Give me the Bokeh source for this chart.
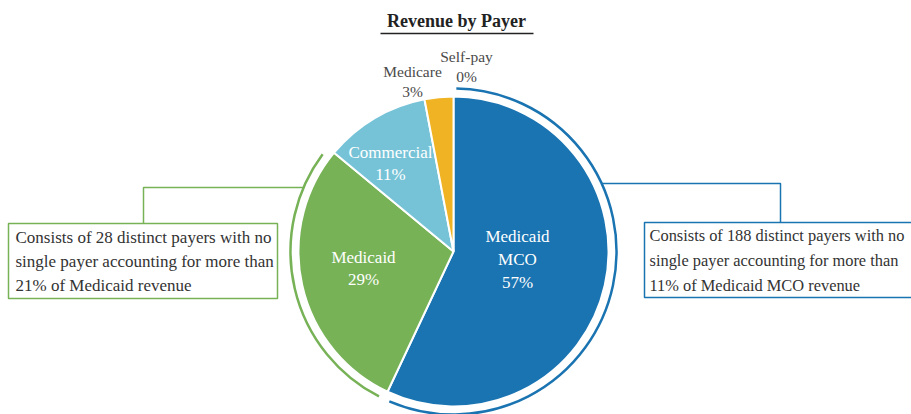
import math
from bokeh.plotting import figure
from bokeh.models import Range1d, ColumnDataSource
from bokeh.core.properties import value
from bokeh.embed import file_html
from bokeh.resources import INLINE

# ---- data ----
payers = ["Medicaid MCO", "Medicaid", "Commercial", "Medicare", "Self-pay"]
label_names = ["Medicaid\nMCO", "Medicaid", "Commercial", "Medicare", "Self-pay"]
shares = [57, 29, 11, 3, 0]
colors = ["#1a74b1", "#77b257", "#76c3d7", "#f0b323", "#9e9e9e"]
title_text = "Revenue by Payer"
note_medicaid = "Consists of 28 distinct payers with no\nsingle payer accounting for more than\n21% of Medicaid revenue"
note_mco = "Consists of 188 distinct payers with no\nsingle payer accounting for more than\n11% of Medicaid MCO revenue"

W, H = 911, 414
SERIF = value("Liberation Serif")

def Y(py):
    return H - py

p = figure(width=W, height=H, output_backend="svg", toolbar_location=None,
           x_range=Range1d(0, W), y_range=Range1d(0, H),
           x_axis_type=None, y_axis_type=None, min_border=0)
p.grid.visible = False
p.outline_line_color = None
p.background_fill_color = "white"
p.border_fill_color = "white"

cx, cy, R = 453, Y(251), 155

# wedge angles, clockwise from 12 o'clock
total = sum(shares)
starts, ends = [], []
a = 90.0
for s in shares:
    sweep = s / total * 360.0
    ends.append(a)
    starts.append(a - sweep)
    a -= sweep

rad = math.radians
nz = [i for i, s in enumerate(shares) if s > 0]
src_nz = ColumnDataSource(dict(start=[rad(starts[i]) for i in nz],
                               end=[rad(ends[i]) for i in nz],
                               color=[colors[i] for i in nz]))
p.wedge(x=cx, y=cy, radius=R, start_angle="start", end_angle="end",
        fill_color="color", line_color="white", line_width=2, source=src_nz)

# bracket arcs around Medicaid MCO and Medicaid
RA = 163
inset = 2.0
p.arc(x=cx, y=cy, radius=RA, start_angle=rad(starts[0] + inset), end_angle=rad(ends[0] - 1.0),
      line_color=colors[0], line_width=2.5)
p.arc(x=cx, y=cy, radius=RA, start_angle=rad(starts[1] + 360 + inset + 1),
      end_angle=rad(ends[1] + 360 - inset), line_color=colors[1], line_width=2.5)

# connector lines
yb = Y(183)
xb = cx + math.sqrt(RA**2 - (yb - cy)**2)
p.line(x=[xb, 780, 780], y=[yb, yb, Y(222)], line_color=colors[0], line_width=1.5)
yg = Y(187)
xg = cx - math.sqrt(RA**2 - (yg - cy)**2)
p.line(x=[xg, 143, 143], y=[yg, yg, Y(223)], line_color=colors[1], line_width=1.5)

# note boxes
p.quad(left=8, right=277, top=Y(223), bottom=Y(298), fill_color="white",
       line_color=colors[1], line_width=1.5)
p.quad(left=644, right=915, top=Y(222), bottom=Y(297), fill_color="white",
       line_color=colors[0], line_width=1.5)
p.text(x=[15], y=[Y(261)], text=[note_medicaid], text_font=SERIF, text_font_size="17px",
       text_color="#333333", text_align="left", text_baseline="middle", text_line_height=1.25)
p.text(x=[649], y=[Y(260)], text=[note_mco], text_font=SERIF, text_font_size="16.4px",
       text_color="#333333", text_align="left", text_baseline="middle", text_line_height=1.3)

# inside labels (pixel anchor of each label block)
inside = [(0, 517, 259), (1, 363, 268), (2, 390, 163)]
for i, px, py in inside:
    p.text(x=[px], y=[Y(py)], text=[f"{label_names[i]}\n{shares[i]}%"], text_font=SERIF,
           text_font_size="17px", text_color="white", text_align="center",
           text_baseline="middle", text_line_height=1.2)

# outside labels
outside = [(3, 412, 81), (4, 466, 66)]
for i, px, py in outside:
    p.text(x=[px], y=[Y(py)], text=[f"{label_names[i]}\n{shares[i]}%"], text_font=SERIF,
           text_font_size="15.5px", text_color="#4a4a4a", text_align="center",
           text_baseline="middle", text_line_height=1.15)

# title
p.text(x=[456], y=[Y(20)], text=[title_text], text_font=SERIF, text_font_size="18px",
       text_font_style="bold", text_color="#222222", text_align="center", text_baseline="middle")
p.line(x=[380, 533], y=[Y(33), Y(33)], line_color="#222222", line_width=1.5)

open("out.html", "w").write(file_html(p, INLINE))
